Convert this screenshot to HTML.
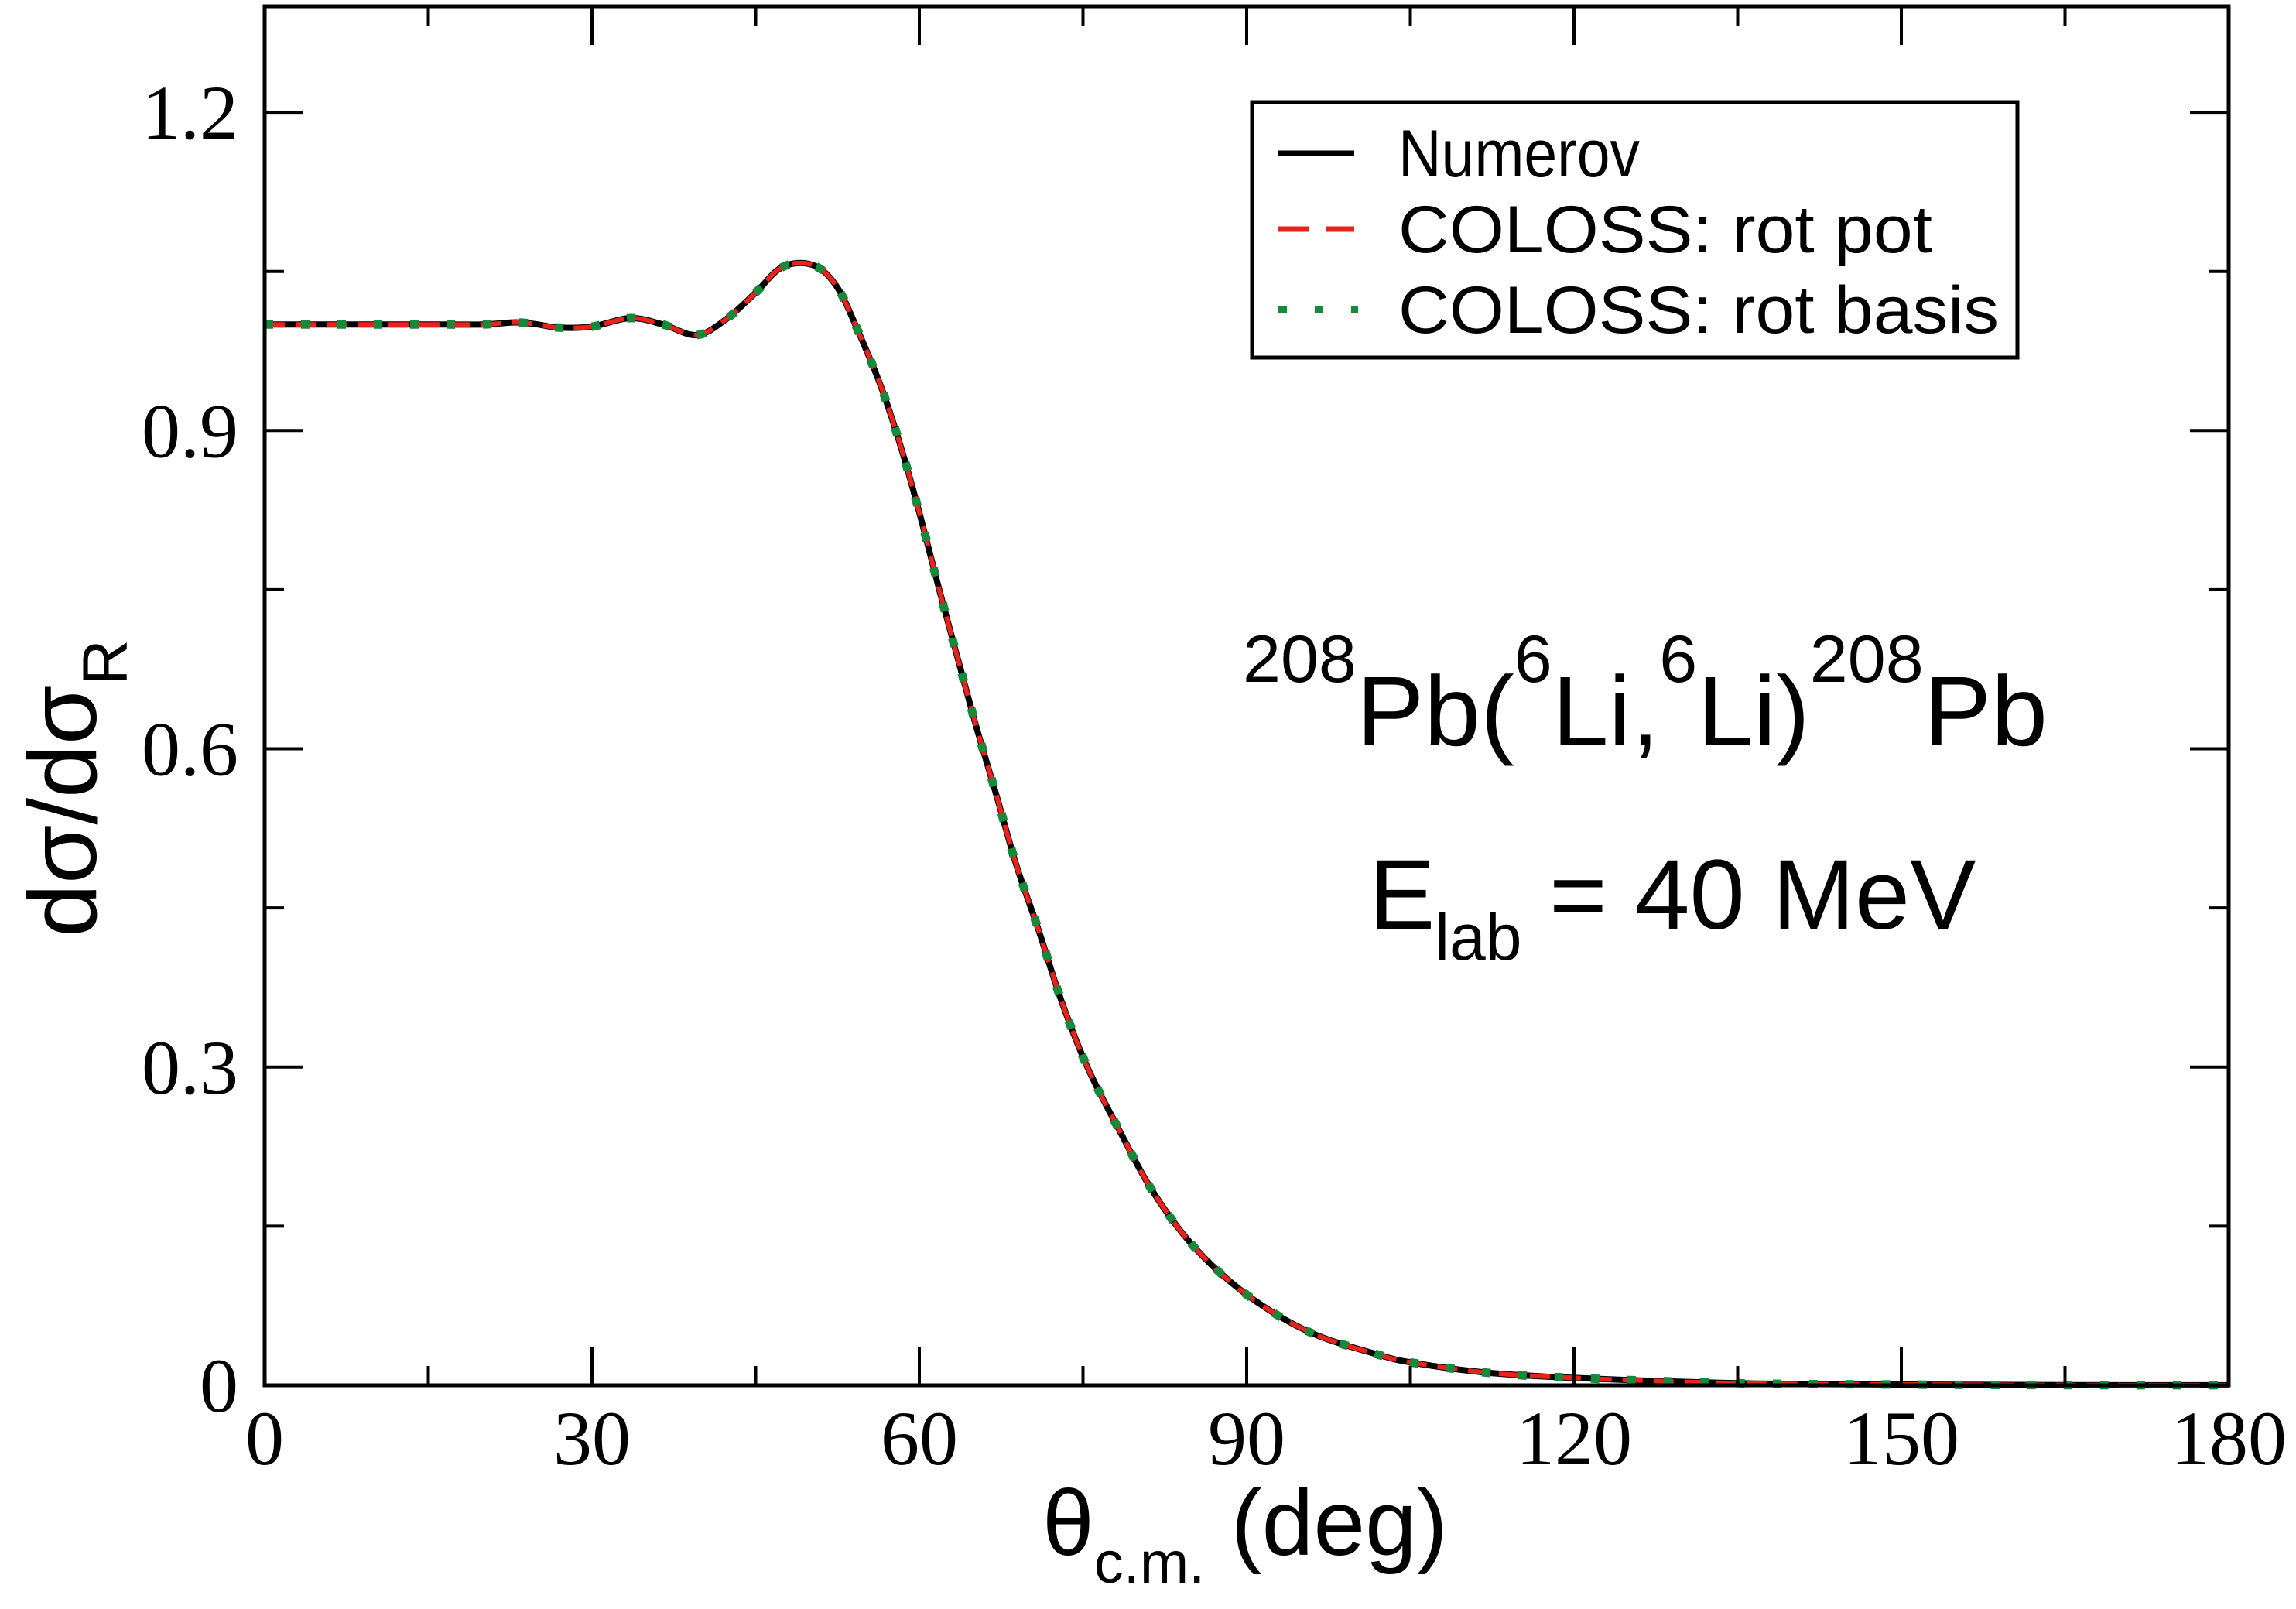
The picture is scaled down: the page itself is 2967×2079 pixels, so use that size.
<!DOCTYPE html>
<html><head><meta charset="utf-8"><style>
html,body{margin:0;padding:0;background:#fff;}
svg{display:block;}
</style></head><body>
<svg id="chart" xmlns="http://www.w3.org/2000/svg" width="2967" height="2079" viewBox="0 0 2967 2079">
<rect x="0" y="0" width="2967" height="2079" fill="#fff"/>
<g id="curves"></g>
<g id="axes"></g>
<g>
  <rect x="1618" y="132" width="989" height="330" fill="#fff" stroke="#000" stroke-width="5"/>
  <line x1="1652" y1="198" x2="1750" y2="198" stroke="#000" stroke-width="7"/>
  <text x="1807" y="228" font-family="Liberation Sans, sans-serif" font-size="86" textLength="312" lengthAdjust="spacingAndGlyphs">Numerov</text>
  <line x1="1652" y1="296" x2="1750" y2="296" stroke="#e8231b" stroke-width="7" stroke-dasharray="40,22"/>
  <text x="1807" y="326" font-family="Liberation Sans, sans-serif" font-size="86" textLength="690" lengthAdjust="spacingAndGlyphs">COLOSS: rot pot</text>
  <line x1="1652" y1="400" x2="1755" y2="400" stroke="#158a3a" stroke-width="10" stroke-dasharray="11,36"/>
  <text x="1807" y="430" font-family="Liberation Sans, sans-serif" font-size="86" textLength="776" lengthAdjust="spacingAndGlyphs">COLOSS: rot basis</text>
</g>
<text x="1606" y="963" font-family="Liberation Sans, sans-serif" font-size="128" textLength="1040" lengthAdjust="spacingAndGlyphs"><tspan font-size="86" dy="-82">208</tspan><tspan dy="82">Pb(</tspan><tspan font-size="86" dy="-82">6</tspan><tspan dy="82">Li,</tspan><tspan font-size="86" dy="-82">6</tspan><tspan dy="82">Li)</tspan><tspan font-size="86" dy="-82">208</tspan><tspan dy="82">Pb</tspan></text>
<text x="1769" y="1200" font-family="Liberation Sans, sans-serif" font-size="128">E<tspan font-size="84" dy="40">lab</tspan><tspan dy="-40"> = 40 MeV</tspan></text>
<text x="1347" y="2009" font-family="Liberation Sans, sans-serif" font-size="120">θ<tspan font-size="76" dy="36">c.m.</tspan><tspan dy="-36"> (deg)</tspan></text>
<text transform="translate(124,1211) rotate(-90)" x="0" y="0" font-family="Liberation Sans, sans-serif" font-size="124">dσ/dσ<tspan font-size="82" dy="40">R</tspan></text>
</svg>
<script>
const xVals = [0,5,10,15,20,23,25,27,30,33.5,36.5,39.6,42.3,45,47.1,49.1,51,52.6,54,56.5,58.5,60.2,61.9,63.6,65.3,67.1,68.9,71,73,75.4,78.3,81.5,85.4,90.2,95.8,102,105.4,112,120,135,150,165,180];
const numerov = [1.0,1.0,1.0,1.0,1.0,1.002,1.0,0.997,0.998,1.006,1.0,0.990,1.005,1.030,1.052,1.058,1.052,1.033,1.003,0.941,0.878,0.815,0.747,0.682,0.618,0.555,0.490,0.427,0.363,0.300,0.241,0.181,0.128,0.084,0.050,0.029,0.021,0.012,0.007,0.002,0.0007,0.0002,0.0001];
const rotPot = numerov.slice();
const rotBasis = numerov.slice();
const xTicks = [0,30,60,90,120,150,180];
const xTickLabels = ["0","30","60","90","120","150","180"];
const yTicks = [0,0.3,0.6,0.9,1.2];
const yTickLabels = ["0","0.3","0.6","0.9","1.2"];

const L=342,R=2880,T=8,B=1790, XMIN=0,XMAX=180,YMIN=0,YMAX=1.3;
const sx=v=>L+(v-XMIN)/(XMAX-XMIN)*(R-L);
const sy=v=>B-(v-YMIN)/(YMAX-YMIN)*(B-T);
const NS="http://www.w3.org/2000/svg";
function mk(tag,attrs,parent){const e=document.createElementNS(NS,tag);for(const k in attrs)e.setAttribute(k,attrs[k]);parent.appendChild(e);return e;}

function pathFrom(xs,ys){
  const p=xs.map((x,i)=>[sx(x),sy(ys[i])]);
  let d="M"+p[0][0].toFixed(1)+","+p[0][1].toFixed(1);
  for(let i=0;i<p.length-1;i++){
    const p0=p[Math.max(0,i-1)],p1=p[i],p2=p[i+1],p3=p[Math.min(p.length-1,i+2)];
    const c1x=p1[0]+(p2[0]-p0[0])/6,c1y=p1[1]+(p2[1]-p0[1])/6;
    const c2x=p2[0]-(p3[0]-p1[0])/6,c2y=p2[1]-(p3[1]-p1[1])/6;
    d+=" C"+c1x.toFixed(1)+","+c1y.toFixed(1)+" "+c2x.toFixed(1)+","+c2y.toFixed(1)+" "+p2[0].toFixed(1)+","+p2[1].toFixed(1);
  }
  return d;
}
const cg=document.getElementById('curves');
const p1=mk('path',{d:pathFrom(xVals,numerov),fill:'none',stroke:'#000','stroke-width':8},cg);


const p2=mk('path',{d:pathFrom(xVals,rotPot),fill:'none',stroke:'#e8231b','stroke-width':6,'stroke-dasharray':'26,14'},cg);


const p3=mk('path',{d:pathFrom(xVals,rotBasis),fill:'none',stroke:'#158a3a','stroke-width':11,'stroke-dasharray':'11,36'},cg);



const ag=document.getElementById('axes');
const frame=mk('rect',{x:L,y:T,width:R-L,height:B-T,fill:'none',stroke:'#000','stroke-width':5},ag);


for(let v=0;v<=180;v+=15){
  const major=v%30===0, len=major?50:25, x=sx(v);
  const t1=mk('line',{x1:x,y1:B,x2:x,y2:B-len,stroke:'#000','stroke-width':4},ag);
  
  
  const t2=mk('line',{x1:x,y1:T,x2:x,y2:T+len,stroke:'#000','stroke-width':4},ag);
  
  
}
for(let i=0;i<=8;i++){
  const v=i*0.15, major=i%2===0, len=major?50:25, y=sy(v);
  const t1=mk('line',{x1:L,y1:y,x2:L+len,y2:y,stroke:'#000','stroke-width':4},ag);
  
  
  const t2=mk('line',{x1:R,y1:y,x2:R-len,y2:y,stroke:'#000','stroke-width':4},ag);
  
  
}
xTicks.forEach((v,i)=>{
  const t=mk('text',{x:sx(v),y:1892,'text-anchor':'middle','font-family':'Liberation Serif, serif','font-size':100},ag);
  t.textContent=xTickLabels[i];
  
  
});
yTicks.forEach((v,i)=>{
  const t=mk('text',{x:308,y:sy(v)+34,'text-anchor':'end','font-family':'Liberation Serif, serif','font-size':100},ag);
  t.textContent=yTickLabels[i];
  
  
});
</script>
</body></html>
